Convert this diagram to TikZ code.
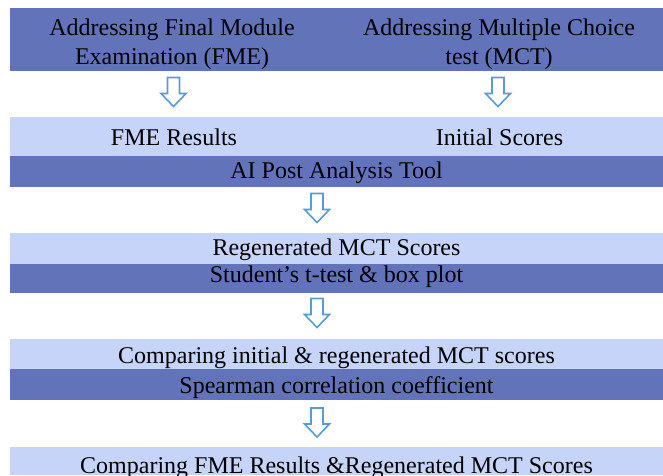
\documentclass[tikz,border=0pt]{standalone}
\usepackage{fontspec}
\setmainfont{Liberation Serif}
\definecolor{bandDark}{RGB}{99,115,185}
\definecolor{bandLight}{RGB}{198,212,250}
\definecolor{arrowBlue}{RGB}{91,155,213}
\begin{document}
\begin{tikzpicture}[x=1pt,y=-1pt,
  band/.style={rectangle, draw=none, inner sep=0pt, anchor=north west, minimum width=653pt},
  dark/.style={band, fill=bandDark},
  light/.style={band, fill=bandLight},
  lbl/.style={inner sep=0pt, anchor=base, font=\fontsize{24}{29}\selectfont, text=black},
  downarrow/.pic={\draw[arrowBlue, line width=1.6pt, fill=white, line join=miter]
     (-6,0) -- (-6,16) -- (-12.5,16) -- (0,29) -- (12.5,16) -- (6,16) -- (6,0) -- cycle;}
]
\useasboundingbox (0,0) rectangle (663,475);
% bands
\node[dark,  minimum height=63pt] (b1) at (10,8) {};
\node[light, minimum height=39pt] (b2) at (10,117) {};
\node[dark,  minimum height=31pt] (b3) at (10,156) {};
\node[light, minimum height=31pt] (b4) at (10,233) {};
\node[dark,  minimum height=29pt] (b5) at (10,264) {};
\node[light, minimum height=30pt] (b6) at (10,339) {};
\node[dark,  minimum height=31pt] (b7) at (10,369) {};
\node[light, minimum height=28pt] (b8) at (10,447) {};
% texts
\node[lbl] (t1a) at (172,35) {Addressing Final Module};
\node[lbl] (t1b) at (172,64) {Examination (FME)};
\node[lbl] (t2a) at (499,35) {Addressing Multiple Choice};
\node[lbl] (t2b) at (499,64) {test (MCT)};
\node[lbl] (t3) at (174,145) {FME Results};
\node[lbl] (t4) at (499.5,145) {Initial Scores};
\node[lbl] (t5) at (336.5,178) {AI Post Analysis Tool};
\node[lbl] (t6) at (336.5,255) {Regenerated MCT Scores};
\node[lbl] (t7) at (336.5,282.5) {Student’s t-test \& box plot};
\node[lbl] (t8) at (336.5,363) {Comparing initial \& regenerated MCT scores};
\node[lbl] (t9) at (336.5,393) {Spearman correlation coefficient};
\node[lbl] (t10) at (336.5,473.5) {Comparing FME Results \&Regenerated MCT Scores};
% arrows
\pic (a1) at (173.5,77.5) {downarrow};
\pic (a2) at (498,77.5) {downarrow};
\pic (a3) at (317,193.5) {downarrow};
\pic (a4) at (317,298.5) {downarrow};
\pic (a5) at (317,408) {downarrow};
\end{tikzpicture}
\end{document}
